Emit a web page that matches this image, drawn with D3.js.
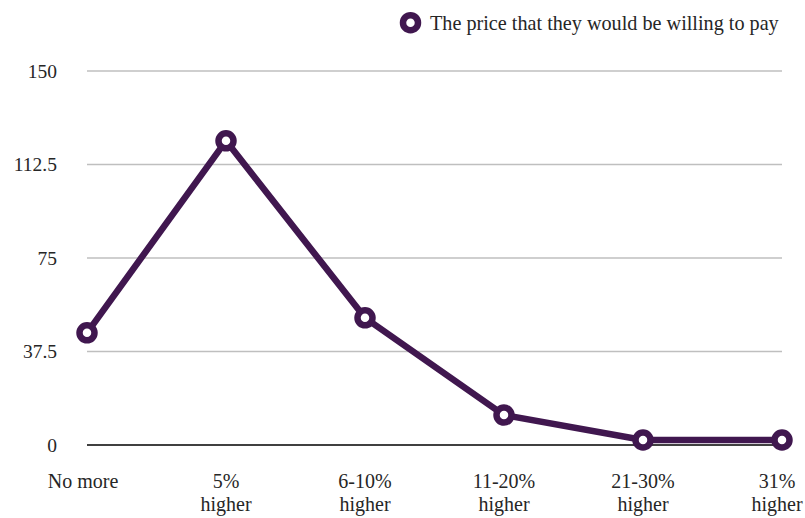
<!DOCTYPE html>
<html><head><meta charset="utf-8">
<script src="https://cdn.jsdelivr.net/npm/d3@7"></script>
<style>body{margin:0;background:#fff}svg{display:block}</style>
</head><body>
<svg id="c" width="805" height="518"></svg>
<script>
const categories = [["No more"], ["5%", "higher"], ["6-10%", "higher"], ["11-20%", "higher"], ["21-30%", "higher"], ["31%", "higher"]];
const values = [45, 122, 51, 12, 2, 2];
const yTicks = [0, 37.5, 75, 112.5, 150];
const seriesName = "The price that they would be willing to pay";

(function() {
const color = "#40174f";
const textColor = "#262626";
const font = "'Liberation Serif', serif";
const svg = d3.select("#c");
const mLeft = 87, mRight = 782, mTop = 71, mBottom = 445;

const x = d3.scalePoint().domain(d3.range(categories.length)).range([mLeft, mRight]).padding(0);
const y = d3.scaleLinear().domain([0, 150]).range([mBottom, mTop]);

// grid
svg.append("g").selectAll("line").data(yTicks).join("line")
  .attr("x1", mLeft).attr("x2", mRight)
  .attr("y1", d => y(d)).attr("y2", d => y(d))
  .attr("stroke", d => d === 0 ? "#000" : "#bfbfbf").attr("stroke-width", 1.3);

// y labels
svg.append("g").selectAll("text").data(yTicks).join("text")
  .attr("x", 57).attr("y", d => y(d) + 6.5)
  .attr("text-anchor", "end").attr("font-family", font).attr("font-size", 19.5).attr("fill", textColor)
  .text(d => d);

// x labels (edge labels nudged inward to stay inside the picture)
const n = categories.length;
const xl = svg.append("g").selectAll("text").data(categories).join("text")
  .attr("text-anchor", "middle").attr("font-family", font).attr("font-size", 20).attr("fill", textColor)
  .attr("x", (d, i) => i === 0 ? x(i) - 4 : (i === n - 1 ? x(i) - 5 : x(i))).attr("y", 488);
xl.selectAll("tspan").data(d => d).join("tspan")
  .attr("x", function() { return d3.select(this.parentNode).attr("x"); })
  .attr("dy", (d, j) => j === 0 ? 0 : 23)
  .text(d => d);

// line
svg.append("path").datum(values)
  .attr("d", d3.line().x((d, i) => x(i)).y(d => y(d)))
  .attr("fill", "none").attr("stroke", color).attr("stroke-width", 6.5).attr("stroke-linejoin", "round");

svg.append("g").selectAll("circle").data(values).join("circle")
  .attr("cx", (d, i) => x(i)).attr("cy", d => y(d)).attr("r", 7.5)
  .attr("fill", "#fff").attr("stroke", color).attr("stroke-width", 6.5);

// legend
svg.append("circle").attr("cx", 410.5).attr("cy", 22.7).attr("r", 7.5)
  .attr("fill", "#fff").attr("stroke", color).attr("stroke-width", 6.5);
svg.append("text").attr("x", 430).attr("y", 30).attr("font-family", font).attr("font-size", 20.2).attr("fill", textColor)
  .text(seriesName);
})();
</script>
</body></html>
